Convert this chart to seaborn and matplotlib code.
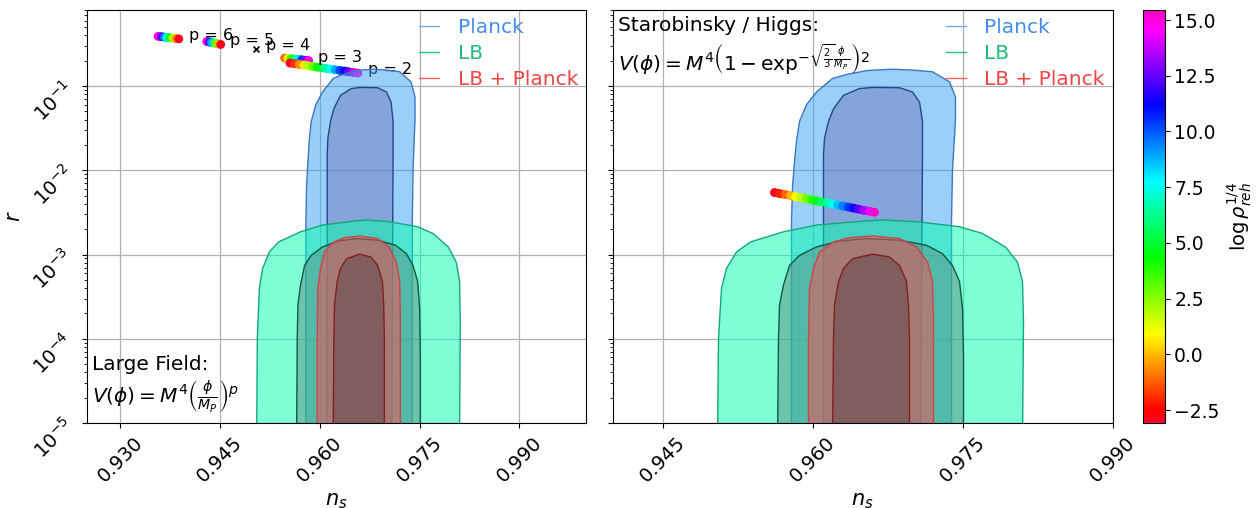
import numpy as np
import matplotlib
matplotlib.use("Agg")
import matplotlib.pyplot as plt
import seaborn as sns
from matplotlib.colors import Normalize, to_rgba
from matplotlib.cm import ScalarMappable
from matplotlib.collections import LineCollection
from matplotlib.ticker import MultipleLocator, FormatStrFormatter

# ---- confidence contours in (n_s, log10 r) ----
planck_95_ns = [0.9579, 0.9579, 0.9580, 0.9582, 0.9584, 0.9587, 0.9594, 0.9604, 0.9620, 0.9635,
                0.9655, 0.9680, 0.9700, 0.9720, 0.9737, 0.9743, 0.9743, 0.9740, 0.9739, 0.9739]
planck_95_logr = [-5.2, -2.6, -2.2, -1.9, -1.65, -1.42, -1.22, -1.07, -0.91, -0.86,
                  -0.815, -0.80, -0.81, -0.83, -0.95, -1.13, -1.4, -2.0, -2.6, -5.2]

planck_68_ns = [0.9611, 0.9611, 0.9612, 0.9616, 0.9621, 0.9631, 0.9647, 0.9660, 0.9687, 0.9700,
                0.9707, 0.9710, 0.9710, 0.9708]
planck_68_logr = [-5.2, -1.82, -1.62, -1.42, -1.27, -1.11, -1.03, -1.016, -1.02, -1.07,
                  -1.19, -1.42, -1.82, -5.2]

lb_95_ns = [0.9505, 0.9506, 0.9509, 0.9514, 0.9524, 0.9538, 0.9571, 0.9604, 0.9654, 0.9670,
            0.9704, 0.9747, 0.9770, 0.9793, 0.9805, 0.9810, 0.9811, 0.9810]
lb_95_logr = [-5.2, -4.0, -3.40, -3.165, -2.97, -2.85, -2.73, -2.65, -2.60, -2.59,
              -2.61, -2.67, -2.75, -2.91, -3.09, -3.32, -3.80, -5.2]

lb_68_ns = [0.9565, 0.9566, 0.9567, 0.9571, 0.9577, 0.9587, 0.9604, 0.9627, 0.9654, 0.9687,
            0.9714, 0.9730, 0.9740, 0.9747, 0.9750, 0.9751, 0.9751]
lb_68_logr = [-5.2, -4.0, -3.60, -3.36, -3.13, -3.01, -2.91, -2.84, -2.81, -2.83,
              -2.89, -2.99, -3.13, -3.32, -3.64, -4.2, -5.2]

both_95_ns = [0.9596, 0.9596, 0.9597, 0.9601, 0.9607, 0.9621, 0.9637, 0.9660, 0.9687, 0.9704,
              0.9715, 0.9720, 0.9721, 0.9721]
both_95_logr = [-5.2, -4.0, -3.40, -3.165, -2.97, -2.85, -2.80, -2.78, -2.81, -2.91,
                -3.09, -3.32, -3.80, -5.2]

both_68_ns = [0.9620, 0.9621, 0.9622, 0.9626, 0.9631, 0.9640, 0.9660, 0.9677, 0.9687, 0.9694,
              0.9696, 0.9697, 0.9697]
both_68_logr = [-5.2, -4.0, -3.60, -3.32, -3.165, -3.05, -2.995, -3.03, -3.13, -3.32,
                -3.60, -4.0, -5.2]

# ---- large field predictions (n_s, r, log rho_reh^1/4) ----
p6_ns = [0.9357, 0.9362, 0.9366, 0.9370, 0.9375, 0.9379, 0.9384, 0.9388]
p6_r = [0.3890, 0.3855, 0.3811, 0.3776, 0.3741, 0.3707, 0.3664, 0.3631]
p6_rho = [15.0, 12.4, 9.7, 7.1, 4.6, 2.0, -0.6, -3.0]

p5_ns = [0.9430, 0.9434, 0.9437, 0.9441, 0.9444, 0.9448, 0.9451]
p5_r = [0.3381, 0.3334, 0.3289, 0.3243, 0.3206, 0.3162, 0.3119]
p5_rho = [15.0, 12.0, 9.0, 6.0, 3.0, 0.0, -3.0]

p4_ns = [0.9504]
p4_r = [0.275]

p3_ns = [0.9547, 0.9552, 0.9557, 0.9562, 0.9568, 0.9573, 0.9578, 0.9583]
p3_r = [0.2153, 0.2133, 0.2113, 0.2089, 0.2070, 0.2051, 0.2028, 0.2009]
p3_rho = [-1.0, 1.3, 3.6, 5.9, 8.1, 10.4, 12.7, 15.0]

p2_ns = [0.9555, 0.9562, 0.9569, 0.9576, 0.9582, 0.9589, 0.9596, 0.9603,
         0.9609, 0.9616, 0.9623, 0.9630, 0.9637, 0.9643, 0.9650, 0.9657]
p2_r = [0.1875, 0.1841, 0.1807, 0.1774, 0.1742, 0.1710, 0.1679, 0.1648,
        0.1622, 0.1592, 0.1563, 0.1535, 0.1507, 0.1479, 0.1452, 0.1426]
p2_rho = [-3.0, -1.8, -0.6, 0.6, 1.8, 3.0, 4.2, 5.4, 6.6, 7.8, 9.0, 10.2, 11.4, 12.6, 13.8, 15.0]

# ---- Starobinsky / Higgs prediction ----
staro_ns = [0.9562, 0.9567, 0.9573, 0.9578, 0.9583, 0.9588, 0.9594, 0.9599, 0.9604, 0.9609,
            0.9615, 0.9620, 0.9625, 0.9630, 0.9636, 0.9641, 0.9646, 0.9651, 0.9657, 0.9662]
staro_r = [5.445e-3, 5.297e-3, 5.140e-3, 5.000e-3, 4.864e-3, 4.721e-3, 4.592e-3, 4.467e-3,
           4.335e-3, 4.217e-3, 4.102e-3, 3.981e-3, 3.873e-3, 3.767e-3, 3.656e-3, 3.556e-3,
           3.459e-3, 3.357e-3, 3.266e-3, 3.177e-3]
staro_rho = [-3.0, -2.0, -1.1, -0.1, 0.9, 1.8, 2.8, 3.7, 4.7, 5.7,
             6.6, 7.6, 8.6, 9.5, 10.5, 11.4, 12.4, 13.4, 14.3, 15.3]

rho_min, rho_max = -3.08, 15.45
legend_labels = ["Planck", "LB", "LB + Planck"]
legend_text_colors = ["#468cf0", "#22bb77", "#f04545"]
legend_line_colors = ["#78aaf0", "#2fbf88", "#f06060"]

norm = Normalize(rho_min, rho_max)
cmap = "gist_rainbow"

fig = plt.figure(figsize=(12.58, 5.08), dpi=100)
ax1 = fig.add_axes([87 / 1258, 85 / 508, 499 / 1258, 413 / 508])
ax2 = fig.add_axes([612.5 / 1258, 85 / 508, 500 / 1258, 413 / 508], sharey=ax1)
cax = fig.add_axes([1143 / 1258, 85 / 508, 21.5 / 1258, 413 / 508])

contours = [
    (planck_95_ns, planck_95_logr, "#37a1f5", "#3a78c0"),
    (planck_68_ns, planck_68_logr, "#6f7cba", "#24468a"),
    (lb_95_ns, lb_95_logr, "#00ffad", "#14a878"),
    (lb_68_ns, lb_68_logr, "#5a8d80", "#0f5a44"),
    (both_95_ns, both_95_logr, "#ff484f", "#d04444"),
    (both_68_ns, both_68_logr, "#5f4144", "#80201f"),
]


def draw_contours(ax):
    for ns, logr, fc, ec in contours:
        ax.fill(ns, 10 ** np.array(logr), facecolor=to_rgba(fc, 0.5),
                edgecolor=ec, lw=1.0, zorder=2)


def rainbow(ax, ns, r, rho, z):
    # thick coloured band under the points so the track looks continuous
    pts = np.column_stack([ns, r])
    segs = np.stack([pts[:-1], pts[1:]], axis=1)
    band = LineCollection(segs, cmap=cmap, norm=norm, lw=5.8, capstyle="round", zorder=z)
    band.set_array((np.array(rho[:-1]) + np.array(rho[1:])) / 2)
    ax.add_collection(band)
    sns.scatterplot(x=ns, y=r, hue=rho, palette=cmap, hue_norm=norm, s=40,
                    linewidth=0, legend=False, ax=ax, zorder=z)


# left panel: large field
rainbow(ax1, p6_ns, p6_r, p6_rho, 1)
rainbow(ax1, p5_ns, p5_r, p5_rho, 1)
rainbow(ax1, p3_ns, p3_r, p3_rho, 1)
rainbow(ax1, p2_ns, p2_r, p2_rho, 1)
ax1.scatter(p4_ns, p4_r, marker="x", color="k", s=18, lw=1.2, zorder=1)
for lab, xs, ys in [("p = 6", p6_ns, p6_r), ("p = 5", p5_ns, p5_r), ("p = 4", p4_ns, p4_r),
                    ("p = 3", p3_ns, p3_r), ("p = 2", p2_ns, p2_r)]:
    ax1.annotate(lab, (xs[-1], ys[-1]), xytext=(7, 2.5), textcoords="offset points",
                 va="center", ha="left", fontsize=11.5, zorder=1.5)
draw_contours(ax1)
ax1.text(0.01, 0.02, "Large Field:\n" + r"$V(\phi) = M^4\left(\frac{\phi}{M_P}\right)^p$",
         transform=ax1.transAxes, va="bottom", ha="left", fontsize=14.5)

# right panel: Starobinsky
draw_contours(ax2)
rainbow(ax2, staro_ns, staro_r, staro_rho, 3)
ax2.text(0.01, 0.985, "Starobinsky / Higgs:\n"
         + r"$V(\phi) = M^4\left(1 - \exp^{-\sqrt{\frac{2}{3}}\frac{\phi}{M_P}}\right)^2$",
         transform=ax2.transAxes, va="top", ha="left", fontsize=14.5)

for ax, xlim in [(ax1, (0.925, 1.0)), (ax2, (0.940, 0.990))]:
    for lab, lc in zip(legend_labels, legend_line_colors):
        ax.plot([], [], color=lc, lw=1.0, label=lab)
    ax.legend(loc="upper right", frameon=False, fontsize=14.5, handlelength=1.0,
              handletextpad=0.9, labelspacing=0.35, borderaxespad=0.1, borderpad=0.3,
              labelcolor=legend_text_colors)
    ax.set_yscale("log")
    ax.set_xlim(*xlim)
    ax.set_ylim(1e-5, 0.8)
    ax.xaxis.set_major_locator(MultipleLocator(0.015))
    ax.xaxis.set_major_formatter(FormatStrFormatter("%.3f"))
    ax.set_axisbelow(True)
    ax.grid(True, color="#b0b0b0", lw=0.9)
    ax.tick_params(axis="both", labelsize=14)
    plt.setp(ax.get_xticklabels(), rotation=45)
    plt.setp(ax.get_yticklabels(), rotation=45)
    ax.set_xlabel("$n_s$", fontsize=15)

ax1.set_ylabel("$r$", fontsize=15)
ax2.tick_params(labelleft=False)

cb = fig.colorbar(ScalarMappable(norm=norm, cmap=cmap), cax=cax)
cb.ax.yaxis.set_major_locator(MultipleLocator(2.5))
cb.ax.tick_params(labelsize=13.5)
cb.set_label(r"$\log\rho_{reh}^{1/4}$", fontsize=14)

fig.savefig("out.png", dpi=100)
